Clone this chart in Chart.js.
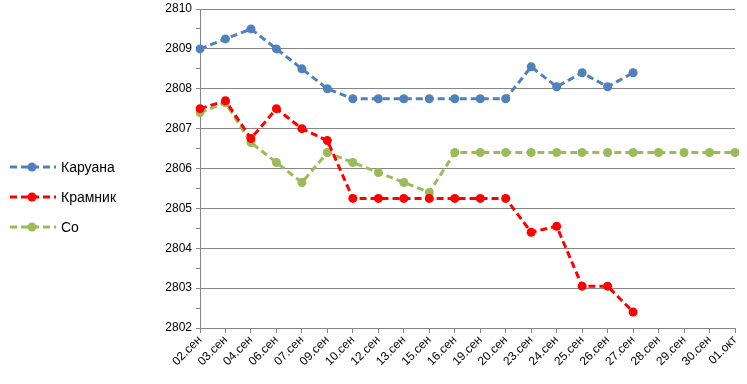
<!DOCTYPE html>
<html><head><meta charset="utf-8">
<script src="https://cdn.jsdelivr.net/npm/chart.js@4/dist/chart.umd.min.js"></script>
<style>
html,body{margin:0;padding:0;background:#fff;}
#wrap{position:relative;width:747px;height:384px;}
canvas{position:absolute;left:0;top:0;}
.lg{position:absolute;left:10px;height:20px;font-family:"Liberation Sans",Arial,sans-serif;font-size:14px;color:#000;display:flex;align-items:center;}
.lg svg{margin-right:5px;}
</style></head><body>
<div id="wrap"><canvas id="c" width="747" height="384"></canvas>
<div id="legend"></div></div>
<script>
const categories = ["02.сен","03.сен","04.сен","06.сен","07.сен","09.сен","10.сен","12.сен","13.сен","15.сен","16.сен","19.сен","20.сен","23.сен","24.сен","25.сен","26.сен","27.сен","28.сен","29.сен","30.сен","01.окт"];
const seriesNames = ["Каруана","Крамник","Со"];
const caruana = [2809.0,2809.25,2809.5,2809.0,2808.5,2808.0,2807.75,2807.75,2807.75,2807.75,2807.75,2807.75,2807.75,2808.55,2808.05,2808.4,2808.05,2808.4,null,null,null,null];
const kramnik = [2807.5,2807.7,2806.75,2807.5,2807.0,2806.7,2805.25,2805.25,2805.25,2805.25,2805.25,2805.25,2805.25,2804.4,2804.55,2803.05,2803.05,2802.4,null,null,null,null];
const so = [2807.4,2807.65,2806.65,2806.15,2805.65,2806.4,2806.15,2805.9,2805.65,2805.4,2806.4,2806.4,2806.4,2806.4,2806.4,2806.4,2806.4,2806.4,2806.4,2806.4,2806.4,2806.4];
const colors = ["#4F81BD","#FF0000","#9BBB59"];
const yMin = 2802, yMax = 2810;

const allSeries = [caruana, kramnik, so];
const datasets = allSeries.map((d,i)=>({
  label: seriesNames[i], data: d, borderColor: colors[i], backgroundColor: colors[i],
  borderWidth: 3, borderDash: [7,4], pointRadius: 4.5, pointHoverRadius: 4.5,
  pointBorderWidth: 0, tension: 0, spanGaps: false
}));

const grey = "#868686";
new Chart(document.getElementById('c'), {
  type: 'line',
  data: { labels: categories, datasets },
  options: {
    responsive: false, animation: false,
    layout: { padding: { left: 150, top: 0, right: 12, bottom: 0 } },
    plugins: { legend: { display: false }, tooltip: { enabled: false } },
    scales: {
      x: {
        offset: false,
        grid: { drawOnChartArea: false, drawTicks: true, tickLength: 5, color: grey },
        border: { color: grey, width: 1 },
        ticks: { autoSkip: false, minRotation: 45, maxRotation: 45, color: '#000', padding: 0,
          font: { family: '"Liberation Sans", Arial, sans-serif', size: 12 } },
        afterFit: s => { s.height = 56; }
      },
      y: {
        min: yMin, max: yMax,
        grid: { color: c => (c.tick && Number.isInteger(c.tick.value)) ? grey : 'rgba(0,0,0,0)', tickColor: grey, tickLength: 4, drawTicks: true },
        border: { color: grey, width: 1 },
        ticks: { stepSize: 0.5, color: '#000', padding: 4,
          font: { family: '"Liberation Sans", Arial, sans-serif', size: 12 },
          callback: v => Number.isInteger(v) ? String(v) : '' },
        afterFit: s => { s.width = 50; s.paddingTop = 9; s.paddingBottom = 0; }
      }
    }
  }
});

const lg = document.getElementById('legend');
const ys = [166.7, 196.7, 227];
seriesNames.forEach((n,i)=>{
  const d = document.createElement('div');
  d.className = 'lg';
  d.style.top = (ys[i]-10)+'px';
  d.innerHTML = `<svg width="46" height="20"><line x1="0" y1="10" x2="46" y2="10" stroke="${colors[i]}" stroke-width="3" stroke-dasharray="7,4"/><circle cx="22" cy="10" r="4.5" fill="${colors[i]}"/></svg><span>${n}</span>`;
  lg.appendChild(d);
});
</script>
</body></html>
